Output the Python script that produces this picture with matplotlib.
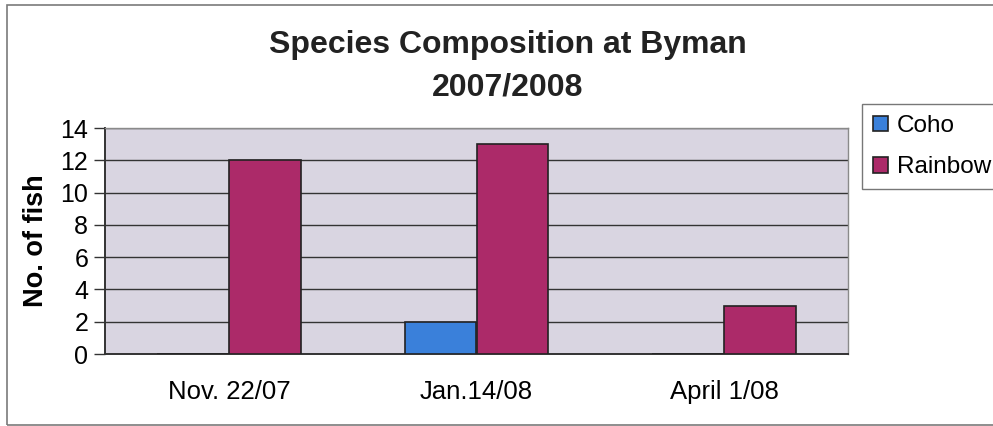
import matplotlib
matplotlib.use("Agg")
import matplotlib.pyplot as plt
from matplotlib.patches import Rectangle
import numpy as np

plt.rcParams['font.family'] = ['Liberation Sans', 'DejaVu Sans']

dates = ["Nov. 22/07", "Jan.14/08", "April 1/08"]
coho = [0, 2, 0]
rainbow = [12, 13, 3]
yticks = [0, 2, 4, 6, 8, 10, 12, 14]

W, H, dpi = 993, 426, 100
fig = plt.figure(figsize=(W / dpi, H / dpi), dpi=dpi)

# outer chart frame
fig.patches.append(Rectangle((7 / W, 1 / H), 1.2, (H - 6) / H,
                             transform=fig.transFigure, fill=False,
                             edgecolor="#7a7a7a", linewidth=1.2))

ax = fig.add_axes([105 / W, 1 - 354 / H, (848 - 105) / W, (354 - 128) / H])
ax.set_facecolor("#d9d5e1")

x = np.arange(len(dates))
bw = 0.29
ax.bar(x - bw / 2, coho, bw, color="#3a80da", edgecolor="#222222",
       linewidth=1.2, label="Coho", zorder=3)
ax.bar(x + bw / 2, rainbow, bw, color="#ac2a69", edgecolor="#222222",
       linewidth=1.2, label="Rainbow", zorder=3)

ax.set_xlim(-0.5, len(dates) - 0.5)
ax.set_ylim(0, 14)
ax.set_yticks(yticks)
ax.set_yticklabels([str(v) for v in yticks], fontsize=18)
ax.set_xticks(x)
ax.set_xticklabels(dates, fontsize=18.5)
ax.tick_params(axis="x", length=0, pad=19)
ax.tick_params(axis="y", length=8, width=1, color="#333333", pad=4)
ax.yaxis.grid(True, color="#333333", linewidth=1)
ax.set_axisbelow(True)
for s in ["left", "bottom"]:
    ax.spines[s].set_color("#333333")
    ax.spines[s].set_linewidth(1.4)
for s in ["top", "right"]:
    ax.spines[s].set_color("#8a8a8a")
    ax.spines[s].set_linewidth(1)

ax.set_ylabel("No. of fish", fontsize=19.5, fontweight="bold", labelpad=8)

fig.text(508 / W, 1 - 45 / H, "Species Composition at Byman", ha="center",
         va="center", fontsize=23, fontweight="bold", color="#222222")
fig.text(508 / W, 1 - 87 / H, "2007/2008", ha="center", va="center",
         fontsize=23, fontweight="bold", color="#222222")

leg = fig.legend(loc="upper left", bbox_to_anchor=(862 / W, 1 - 104 / H),
                 fontsize=17.5, frameon=True, fancybox=False, handlelength=0.6,
                 handleheight=0.6, handletextpad=0.4, labelspacing=0.8,
                 borderpad=0.45, borderaxespad=0)
leg.get_frame().set_edgecolor("#555555")
leg.get_frame().set_linewidth(1)

fig.savefig("out.png", dpi=dpi, facecolor="white")
